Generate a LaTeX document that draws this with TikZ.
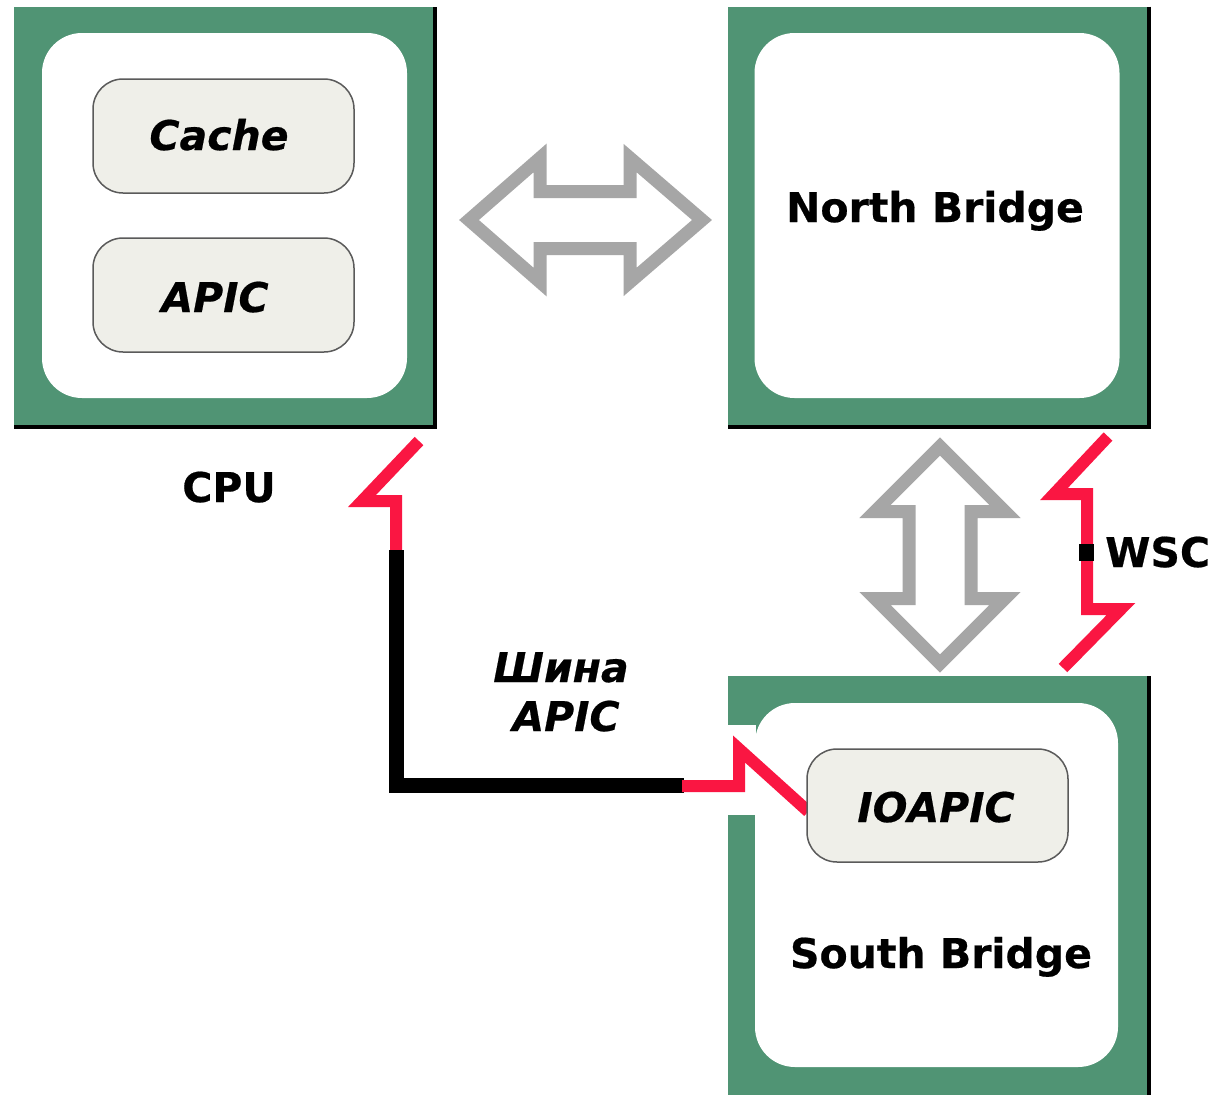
\documentclass[tikz,border=0pt]{standalone}
\usepackage{fontspec}
\setmainfont{DejaVu Sans}[BoldFeatures={FakeBold=0.5},BoldItalicFeatures={FakeBold=0.5}]
\usetikzlibrary{calc}

\definecolor{chipgreen}{RGB}{80,148,116}
\definecolor{wirered}{RGB}{250,22,66}
\definecolor{busgray}{RGB}{166,166,166}
\definecolor{unitfill}{RGB}{239,239,233}
\definecolor{unitline}{RGB}{90,90,90}

\pgfdeclarelayer{paper}
\pgfdeclarelayer{chips}
\pgfdeclarelayer{wires}
\pgfsetlayers{paper,chips,wires,main}

\begin{document}
\begin{tikzpicture}[x=1pt,y=-1pt,
  chip/.style={fill=chipgreen, draw=none, minimum width=419pt, minimum height=418pt, inner sep=0pt, outer sep=0pt},
  die/.style={fill=white, draw=none, rounded corners=40pt, minimum width=365pt, minimum height=365pt, inner sep=0pt, outer sep=0pt},
  unit/.style={fill=unitfill, draw=unitline, line width=1.5pt, rounded corners=30pt, minimum width=261pt, minimum height=114pt, inner sep=0pt},
  lbl/.style={font=\fontsize{41}{49}\selectfont\bfseries, anchor=base, inner sep=0pt},
  ilbl/.style={lbl, font=\fontsize{41}{49}\selectfont\bfseries\itshape},
  shadowline/.style={black, line width=4pt},
  wire/.style={wirered, line width=12pt, line join=miter, line cap=butt},
  bus/.style={black, line width=15pt, line join=miter, line cap=butt},
  blockarrow/.style={busgray, line width=13pt, line join=miter}
]
\useasboundingbox (0,0) rectangle (1221,1095);
\begin{pgfonlayer}{paper}
  \fill[white] (0,0) rectangle (1221,1095);
\end{pgfonlayer}

% ---- chip packages ----
\begin{pgfonlayer}{chips}
  % CPU
  \node[chip] (cpu) at (223.5,216) {};
  \draw[shadowline] ($(cpu.north east)+(2,0)$) -- ($(cpu.south east)+(2,2)$) -- ($(cpu.south west)+(0,2)$);
  \node[die] (cpudie) at (224.5,215.5) {};
  % North Bridge
  \node[chip] (nb) at (937.5,215.5) {};
  \draw[shadowline] ($(nb.north east)+(2,0)$) -- ($(nb.south east)+(2,2)$) -- ($(nb.south west)+(0,2)$);
  \node[die] (nbdie) at (937,215.5) {};
  % South Bridge
  \node[chip, minimum height=419pt] (sb) at (937.5,885.5) {};
  \draw[shadowline] ($(sb.north east)+(2,0)$) -- ($(sb.south east)+(2,0)$);
  \fill[white] (727,725) rectangle (756,815);
  \node[die, minimum width=363pt, minimum height=364pt] (sbdie) at (936.5,885) {};
\end{pgfonlayer}

% ---- functional units ----
\node[unit] (cache) at (223.5,136) {};
\node[ilbl] (cachelabel) at (219,150) {Cache};
\node[unit] (apic) at (223.5,295) {};
\node[ilbl] (apiclabel) at (215,312) {APIC};
\node[unit, minimum height=113pt] (ioapic) at (937.5,805.5) {};
\node[ilbl] (ioapiclabel) at (936,822) {IOAPIC};

% ---- chip names ----
\node[lbl] (cpulabel) at (229,502) {CPU};
\node[lbl] (nblabel) at (935,222) {North Bridge};
\node[lbl] (sblabel) at (941,968) {South Bridge};

% ---- system buses ----
\draw[blockarrow] (469,220) -- (540,158) -- (540,191.5) -- (630,191.5) -- (630,158)
  -- (702,220) -- (630,282) -- (630,248.5) -- (540,248.5) -- (540,282) -- cycle;
\draw[blockarrow] (940,446.5) -- (1005,511.5) -- (971,511.5) -- (971,598.5) -- (1005,598.5)
  -- (940,663.5) -- (875,598.5) -- (909,598.5) -- (909,511.5) -- (875,511.5) -- cycle;

% ---- APIC bus ----
\coordinate (cpupin) at ($(cpu.south east)+(-14,16)$);
\coordinate (busbend) at (396,785);
\begin{pgfonlayer}{wires}
  \draw[wire] (cpupin) -- (362,501) -- (396,501) -- (396,553);
  \draw[bus] (396,550) -- (busbend) -- (684,785);
  \draw[wire] (682,786) -- (739,786) -- (739,749) -- ($(ioapic.west)+(2,6)$);
\end{pgfonlayer}
\node[ilbl] (buslabel1) at (561,682) {Шина};
\node[ilbl] (buslabel2) at (566,731) {APIC};

% ---- WSC link ----
\draw[wire] ($(nb.south east)+(-39,12)$) -- (1054,494) -- (1087,494) -- (1087,609)
  -- (1121,609) -- ($(sb.north east)+(-84,-8)$);
\node[fill=black, minimum width=15pt, minimum height=17pt, inner sep=0pt] (wscpin) at (1086,552) {};
\node[lbl, anchor=base west] (wsclabel) at (1105,567) {WSC};
\end{tikzpicture}
\end{document}
